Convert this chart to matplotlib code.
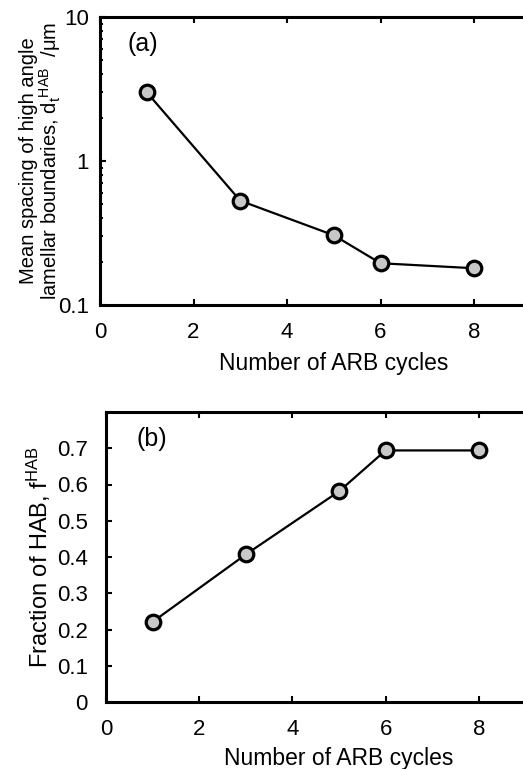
import numpy as np
import matplotlib
matplotlib.use("Agg")
import matplotlib.pyplot as plt
from matplotlib.ticker import LogLocator, NullFormatter, FixedLocator

plt.rcParams['font.family'] = ['Liberation Sans', 'DejaVu Sans']
plt.rcParams['mathtext.fontset'] = 'custom'
plt.rcParams['mathtext.rm'] = 'Liberation Sans'
plt.rcParams['mathtext.it'] = 'Liberation Sans'

# data
cycles = [1, 3, 5, 6, 8]
spacing_um = [3.0, 0.53, 0.305, 0.195, 0.18]
frac_hab = [0.221, 0.407, 0.581, 0.694, 0.694]
x_ticks = [0, 2, 4, 6, 8]
frac_ticks = [0, 0.1, 0.2, 0.3, 0.4, 0.5, 0.6, 0.7]

W, H = 523, 769
fig = plt.figure(figsize=(W / 100, H / 100), dpi=100)

mk = dict(marker='o', ms=10.5, mfc='#c8c8c8', mec='black', mew=2.3,
          color='black', lw=1.6, clip_on=False, zorder=5)


def style(ax, ypad):
    for s in ax.spines.values():
        s.set_linewidth(2.2)
    ax.tick_params(which='both', direction='in', top=True, right=True,
                   labelsize=16, width=1.5)
    ax.tick_params(which='major', length=4.5)
    ax.tick_params(which='minor', length=2.5)
    ax.tick_params(axis='x', pad=12.5)
    ax.tick_params(axis='y', pad=ypad)


# (a) log scale
ax1 = fig.add_axes([100 / W, 1 - 305 / H, 467.5 / W, 288 / H])
ax1.plot(cycles, spacing_um, **mk)
ax1.set_yscale('log')
ax1.set_ylim(0.1, 10)
ax1.set_xlim(0, 10)
ax1.xaxis.set_major_locator(FixedLocator(x_ticks))
ax1.yaxis.set_major_locator(FixedLocator([0.1, 1, 10]))
ax1.set_yticklabels(['0.1', '1', '10'])
ax1.yaxis.set_minor_locator(LogLocator(base=10, subs=np.arange(2, 10)))
ax1.yaxis.set_minor_formatter(NullFormatter())
style(ax1, 8)
ax1.set_xlabel('Number of ARB cycles', fontsize=16.5, labelpad=6)
ax1.set_ylabel('Mean spacing of high angle\nlamellar boundaries, d$_t$$^{HAB}$  /$\\mu$m',
               fontsize=14.5, labelpad=-4, linespacing=1.0)
ax1.text(0.092, 0.906, '(a)', fontsize=18, ha='center', va='center',
         transform=ax1.transAxes)

# (b) linear
ax2 = fig.add_axes([106 / W, 1 - 702 / H, 466 / W, 290 / H])
ax2.plot(cycles, frac_hab, **mk)
ax2.set_xlim(0, 10)
ax2.set_ylim(0, 0.8)
ax2.xaxis.set_major_locator(FixedLocator(x_ticks))
ax2.yaxis.set_major_locator(FixedLocator(frac_ticks))
ax2.set_yticklabels(['0' if v == 0 else f'{v:.1f}' for v in frac_ticks])
style(ax2, 13)
ax2.set_xlabel('Number of ARB cycles', fontsize=16.5, labelpad=5)
ax2.set_ylabel('Fraction of HAB, f$^{HAB}$', fontsize=17, labelpad=3)
ax2.text(0.099, 0.907, '(b)', fontsize=18, ha='center', va='center',
         transform=ax2.transAxes)

fig.savefig('out.png', dpi=100)
